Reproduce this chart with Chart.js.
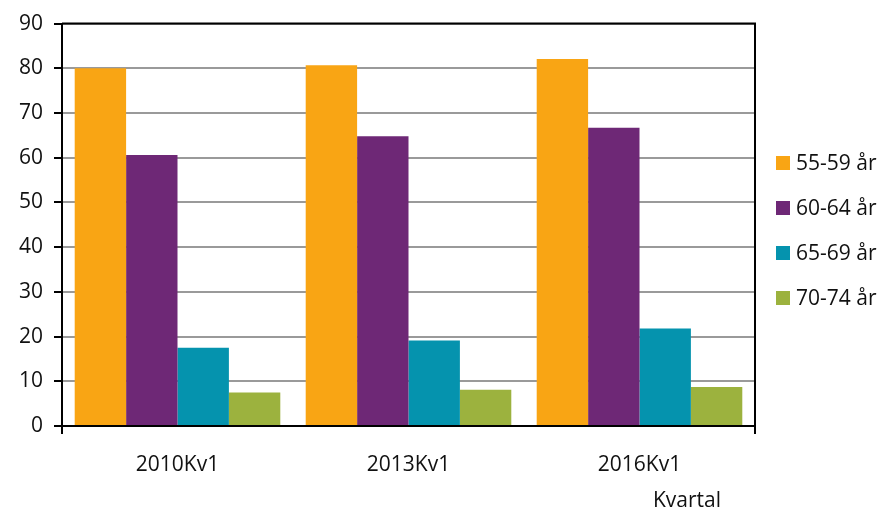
<!DOCTYPE html>
<html>
<head>
<meta charset="utf-8">
<script src="https://cdn.jsdelivr.net/npm/chart.js@4/dist/chart.umd.min.js"></script>
<style>
  html, body { margin: 0; padding: 0; background: #fff; }
  #wrap { width: 888px; height: 514px; }
</style>
</head>
<body>
<div id="wrap"><canvas id="chart"></canvas></div>
<script>
const categories = ['2010Kv1', '2013Kv1', '2016Kv1'];
const seriesNames = ['55-59 år', '60-64 år', '65-69 år', '70-74 år'];
const age5559 = [80.0, 80.7, 82.1];
const age6064 = [60.6, 64.8, 66.7];
const age6569 = [17.5, 19.1, 21.8];
const age7074 = [7.5, 8.1, 8.7];
const seriesColors = ['#F9A514', '#6E2876', '#0593AE', '#9CB23E'];
const xTitle = 'Kvartal';

const FONT = "'Open Sans', 'Noto Sans', sans-serif";

// frame, legend and axis title drawn by hand
const extras = {
  id: 'extras',
  afterDraw(chart) {
    const ctx = chart.ctx;
    const a = chart.chartArea;
    ctx.save();
    ctx.strokeStyle = '#000';
    ctx.lineWidth = 2;
    ctx.beginPath();
    ctx.moveTo(a.left, a.top);
    ctx.lineTo(a.right, a.top);
    ctx.lineTo(a.right, a.bottom + 8);
    ctx.moveTo(a.left, a.bottom);
    ctx.lineTo(a.left, a.bottom + 8);
    ctx.stroke();

    ctx.font = '21px ' + FONT;
    ctx.textBaseline = 'middle';
    ctx.textAlign = 'left';
    chart.data.datasets.forEach((ds, i) => {
      const y = 163 + i * 45;
      ctx.fillStyle = ds.backgroundColor;
      ctx.fillRect(776, y - 7, 14, 14);
      ctx.fillStyle = '#111';
      ctx.fillText(ds.label, 796, y + 1);
    });

    ctx.textAlign = 'center';
    ctx.fillText(xTitle, 687, 501);
    ctx.restore();
  }
};

new Chart(document.getElementById('chart'), {
  type: 'bar',
  data: {
    labels: categories,
    datasets: [age5559, age6064, age6569, age7074].map((d, i) => ({
      label: seriesNames[i],
      data: d,
      backgroundColor: seriesColors[i],
      borderWidth: 0,
      categoryPercentage: 0.89,
      barPercentage: 1.0
    }))
  },
  options: {
    responsive: true,
    maintainAspectRatio: false,
    animation: false,
    layout: { padding: { top: 17, right: 133, left: 0, bottom: 0 } },
    plugins: { legend: { display: false }, tooltip: { enabled: false } },
    scales: {
      x: {
        offset: true,
        afterFit(scale) { scale.height = 88; },
        grid: { display: false },
        border: { color: '#000', width: 2 },
        ticks: { color: '#111', font: { family: FONT, size: 21 }, padding: 18, maxRotation: 0 }
      },
      y: {
        min: 0,
        max: 90,
        afterFit(scale) { scale.width = 62; },
        grid: {
          color: '#9a9a9a',
          lineWidth: 2,
          tickLength: 8,
          tickColor: '#000',
          tickWidth: 2
        },
        border: { color: '#000', width: 2 },
        ticks: { stepSize: 10, color: '#111', font: { family: FONT, size: 21 }, padding: 11 }
      }
    }
  },
  plugins: [extras]
});
</script>
</body>
</html>
